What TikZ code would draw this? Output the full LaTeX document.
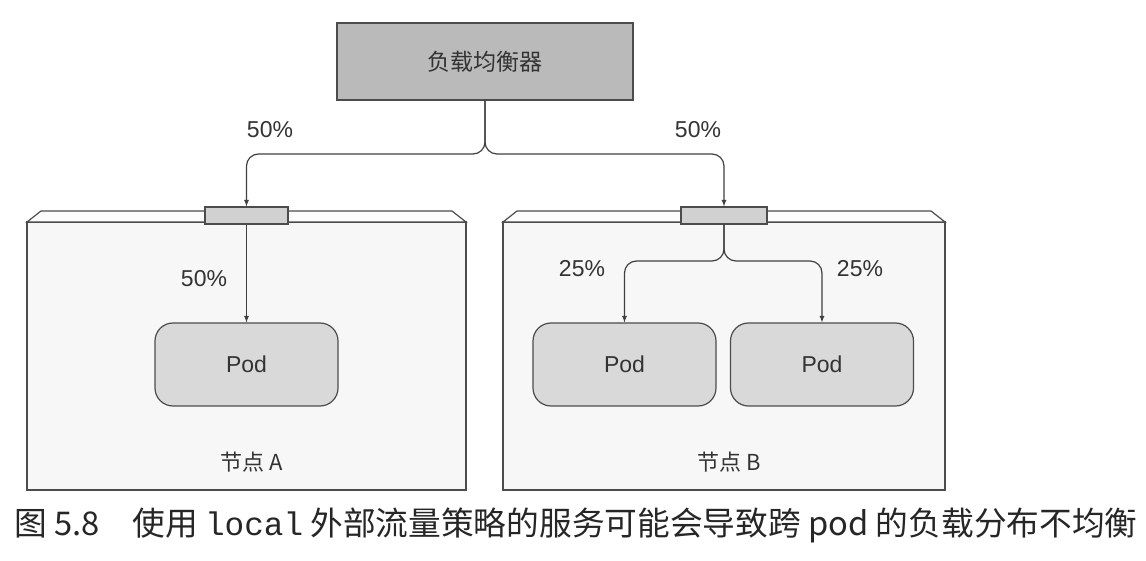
\documentclass[tikz,border=0pt]{standalone}
\usepackage{fontspec}
\setmainfont{Liberation Sans}
\newfontfamily\cjk{Noto Sans CJK SC}
\newfontfamily\monofont{Liberation Mono}
\usepackage{tikz}
\usepackage{xcolor}

\tikzset{
  box/.style={draw=black!70,line width=1.2pt},
  lbbox/.style={box,fill=black!27,minimum width=296pt,minimum height=77pt,inner sep=0pt},
  portbox/.style={box,fill=black!18,minimum height=17pt,inner sep=0pt},
  podbox/.style={box,fill=black!15,rounded corners=18pt,minimum width=183pt,minimum height=83pt,inner sep=0pt},
  flow/.style={-latex,draw=black!75,line width=1.2pt,rounded corners=12pt},
  pct/.style={text=black!80,font=\fontsize{23}{26}\selectfont},
  lbl/.style={text=black!80,font=\cjk\fontsize{22}{26}\selectfont},
}

\begin{document}
\begin{tikzpicture}[x=1pt,y=1pt]
\useasboundingbox (0,0) rectangle (1146,560);
% worker nodes
\draw[box,fill=black!3] (27,70) rectangle (466,338);
\draw[box,fill=black!1] (27,338) -- (41,349) -- (452,349) -- (466,338) -- cycle;
\draw[box,fill=black!3] (503,70) rectangle (945,338);
\draw[box,fill=black!1] (503,338) -- (517,349) -- (931,349) -- (945,338) -- cycle;
\node[lbl] (nameA) at (252,98) {节点 A};
\node[lbl] (nameB) at (729,98) {节点 B};

\node[lbbox] (lb) at (485,498.5) {};
\node[lbl,font=\cjk\fontsize{23}{26}\selectfont] (lbname) at (lb) {负载均衡器};
\node[portbox,minimum width=83pt] (portA) at (246.5,344.5) {};
\node[portbox,minimum width=86pt] (portB) at (724,344.5) {};
\node[podbox] (podA) at (246.5,195.5) {};
\node[podbox] (podB1) at (624.5,195.5) {};
\node[podbox] (podB2) at (822,195.5) {};
\node[pct] at (podA) {Pod};
\node[pct] at (podB1) {Pod};
\node[pct] at (podB2) {Pod};

% traffic
\coordinate (splitLB) at (485,406);
\coordinate (splitB) at (724,299);
\draw[flow] (lb.south) |- (portA.north |- splitLB) -- (portA.north);
\draw[flow] (lb.south) |- (portB.north |- splitLB) -- (portB.north);
\draw[flow] (portA.south) -- (podA.north);
\draw[flow] (portB.south) |- (podB1.north |- splitB) -- (podB1.north);
\draw[flow] (portB.south) |- (podB2.north |- splitB) -- (podB2.north);

\node[pct] (pctA) at (270,430) {50\%};
\node[pct] (pctB) at (698,430) {50\%};
\node[pct] (pctA2) at (204,281) {50\%};
\node[pct] (pctB1) at (582,291) {25\%};
\node[pct] (pctB2) at (860,291) {25\%};

\node[anchor=west,inner sep=0pt,text=black!85,font=\cjk\fontsize{32.7}{36}\selectfont] (caption) at (14,35)
  {图 5.8\quad 使用 {\monofont local} 外部流量策略的服务可能会导致跨 pod 的负载分布不均衡};
\end{tikzpicture}
\end{document}
